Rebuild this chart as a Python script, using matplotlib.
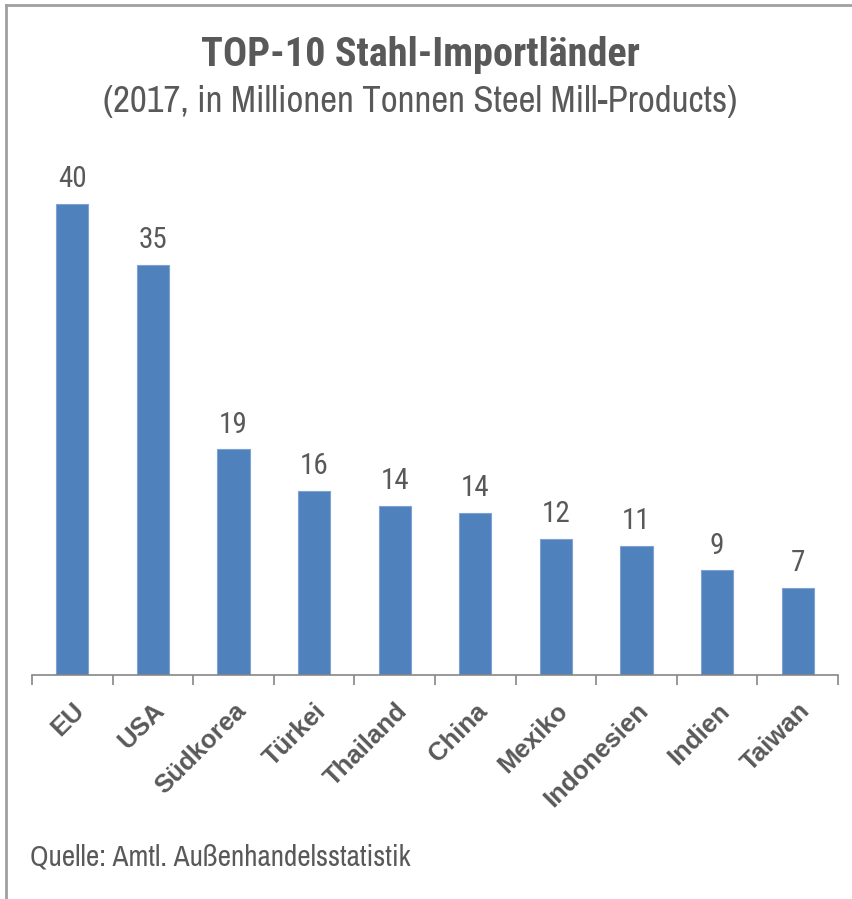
import matplotlib.pyplot as plt
from matplotlib.lines import Line2D

countries = ['EU', 'USA', 'Südkorea', 'Türkei', 'Thailand', 'China',
             'Mexiko', 'Indonesien', 'Indien', 'Taiwan']
imports = [40.1, 34.9, 19.2, 15.7, 14.4, 13.8, 11.6, 11.0, 8.9, 7.4]

narrow = ['Archivo Narrow', 'DejaVu Sans']
cond = ['Roboto Condensed', 'DejaVu Sans']
grey = '#595959'

fig = plt.figure(figsize=(8.52, 8.99), dpi=100)
ax = fig.add_axes([32/852, 1-675/899, 806/852, (675-158)/899])

x = range(len(countries))
bars = ax.bar(x, imports, width=0.4, color='#4F81BD', edgecolor='#7FA3D0', linewidth=0.8)
for xi, v in zip(x, imports):
    ax.text(xi, v + 0.9, f'{v:.0f}', ha='center', va='bottom',
            fontsize=21, color=grey, family=cond)

ax.set_xlim(-0.5, len(countries) - 0.5)
ax.set_ylim(0, 44)
ax.set_yticks([])
for s in ['top', 'right', 'left']:
    ax.spines[s].set_visible(False)
ax.spines['bottom'].set_color('#868686')
ax.spines['bottom'].set_linewidth(1.2)

# ticks sit between the categories
ax.set_xticks([i - 0.5 for i in range(len(countries) + 1)], minor=True)
ax.tick_params(axis='x', which='minor', direction='out', length=7, width=1.2, color='#868686')
ax.set_xticks(list(x))
ax.set_xticklabels(countries, rotation=45, ha='right', rotation_mode='anchor',
                   fontsize=18.5, fontweight='bold', color=grey,
                   family=['Liberation Sans', 'DejaVu Sans'])
ax.tick_params(axis='x', which='major', length=0, pad=17)

fig.text(420/852, 1-55/899, 'TOP-10 Stahl-Importländer', ha='center', va='center',
         fontsize=29, fontweight='bold', color=grey, family=cond)
fig.text(420/852, 1-102/899, '(2017, in Millionen Tonnen Steel Mill-Products)', ha='center',
         va='center', fontsize=26.5, color=grey, family=narrow)
fig.text(30/852, 1-857/899, 'Quelle: Amtl. Außenhandelsstatistik', ha='left', va='center',
         fontsize=21, color=grey, family=narrow)

# frame lines at top and left
fig.add_artist(Line2D([6/852, 1], [1-5/899, 1-5/899], color='#A0A0A0', lw=2))
fig.add_artist(Line2D([6/852, 6/852], [0, 1-5/899], color='#A0A0A0', lw=2))

fig.savefig('out.png', dpi=100)
